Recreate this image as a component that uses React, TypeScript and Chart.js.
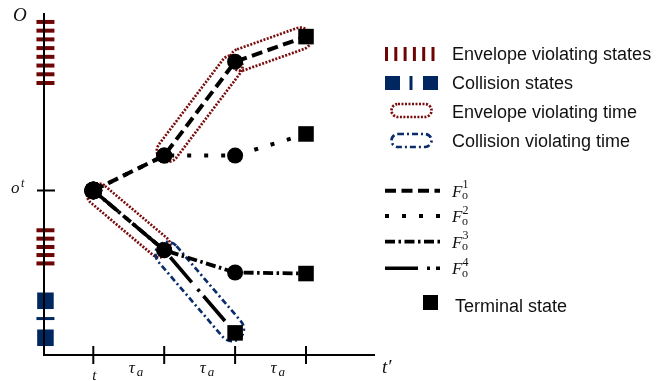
import React, { useEffect, useRef } from 'react';
import { Chart, registerables } from 'chart.js';

Chart.register(...registerables);

// ---- data ----
const steps = [0, 1, 2, 3]; // t, t+τa, t+2τa, t+3τa
const f1Values = [0, 1.0, 3.69, 4.41];
const f2Values = [0, 1.0, 1.0, 1.62];
const f3Values = [0, -1.71, -2.35, -2.38];
const f4Values = [0, -1.71, -4.08];
const seriesNames = ['F1', 'F2', 'F3', 'F4'];
const seriesValues = [f1Values, f2Values, f3Values, f4Values];
const envelopeStates = [4.83, 4.58, 4.33, 4.08, 3.83, 3.58, 3.33, 3.08, -1.14, -1.38, -1.62, -1.85, -2.09];
const collisionStates = [-3.16, -4.22];
const collisionSeparators = [-3.67];
const stateColumn = [-0.675];
const envelopeTimeSpans = [
  { series: 'F3', from: 0, to: 1 },
  { series: 'F1', from: 1, to: 2 },
  { series: 'F1', from: 2, to: 3 },
];
const collisionTimeSpans = [{ series: 'F4', from: 1, to: 2 }];
const originTick = [0];
const legendTexts = ['Envelope violating states', 'Collision states', 'Envelope violating time', 'Collision violating time'];
const terminalText = 'Terminal state';

// ---- styles ----
const RED = '#6e0505';
const RED_OVAL = '#780c0c';
const BLUE = '#00275f';
const BLUE_OVAL = '#0a2c6a';
const DASHES: Record<string, number[]> = {
  F1: [11, 5.5],
  F2: [4, 13],
  F3: [10, 3.5, 2.5, 3.5],
  F4: [33, 9, 3, 6],
};
const WIDTHS: Record<string, number> = { F1: 4, F2: 4, F3: 3.8, F4: 3.6 };
const RED_DOTS = [2, 1.5];
const BLUE_DASHDOT = [6, 3, 2, 3];
const X_MIN = -0.6953;
const X_MAX = 3.973;
const Y_MIN = -4.714;
const Y_MAX = 5.086;
const SANS = '"Liberation Sans", Arial, Helvetica, sans-serif';
const SERIF = '"Liberation Serif", "Times New Roman", serif';

function stadium(ctx: CanvasRenderingContext2D, x1: number, y1: number, x2: number, y2: number, h: number, ext: number) {
  const dx = x2 - x1;
  const dy = y2 - y1;
  const L = Math.hypot(dx, dy);
  const a = Math.atan2(dy, dx);
  const s = -ext + h;
  const e = L + ext - h;
  ctx.save();
  ctx.translate(x1, y1);
  ctx.rotate(a);
  ctx.beginPath();
  ctx.moveTo(s, -h);
  ctx.lineTo(e, -h);
  ctx.arc(e, 0, h, -Math.PI / 2, Math.PI / 2);
  ctx.lineTo(s, h);
  ctx.arc(s, 0, h, Math.PI / 2, (3 * Math.PI) / 2);
  ctx.closePath();
  ctx.restore();
  ctx.stroke();
}

const ovalPlugin = {
  id: 'ovals',
  beforeDatasetsDraw(chart: any) {
    const ctx: CanvasRenderingContext2D = chart.ctx;
    const xs = chart.scales.x;
    const ys = chart.scales.y;
    const draw = (spans: any[], color: string, dash: number[], lw: number, h: number, ext: number) => {
      ctx.save();
      ctx.strokeStyle = color;
      ctx.lineWidth = lw;
      ctx.setLineDash(dash);
      spans.forEach((sp) => {
        const vals = seriesValues[seriesNames.indexOf(sp.series)];
        stadium(
          ctx,
          xs.getPixelForValue(steps[sp.from]),
          ys.getPixelForValue(vals[sp.from]),
          xs.getPixelForValue(steps[sp.to]),
          ys.getPixelForValue(vals[sp.to]),
          h,
          ext
        );
      });
      ctx.restore();
    };
    draw(envelopeTimeSpans, RED_OVAL, RED_DOTS, 2.7, 11, 5);
    draw(collisionTimeSpans, BLUE_OVAL, BLUE_DASHDOT, 2.7, 12, 7);
  },
};

function drawMath(ctx: CanvasRenderingContext2D, x: number, base: number, digit: string) {
  ctx.fillStyle = '#111';
  ctx.textAlign = 'left';
  ctx.textBaseline = 'alphabetic';
  ctx.font = `italic 17px ${SERIF}`;
  ctx.fillText('F', x, base);
  ctx.font = `12px ${SERIF}`;
  ctx.fillText(digit, x + 10.5, base - 8.5);
  ctx.fillText('o', x + 10, base + 2.5);
}

const axesPlugin = {
  id: 'axesAndLegend',
  afterDatasetsDraw(chart: any) {
    const ctx: CanvasRenderingContext2D = chart.ctx;
    const xs = chart.scales.x;
    const ys = chart.scales.y;
    const x0 = xs.getPixelForValue(X_MIN);
    const x1 = xs.getPixelForValue(X_MAX);
    const y0 = ys.getPixelForValue(Y_MIN);
    const y1 = ys.getPixelForValue(Y_MAX);
    ctx.save();
    ctx.strokeStyle = '#000';
    ctx.lineWidth = 2;
    ctx.setLineDash([]);
    ctx.beginPath();
    ctx.moveTo(x0, y1);
    ctx.lineTo(x0, y0);
    ctx.lineTo(x1, y0);
    ctx.stroke();
    // x ticks
    steps.forEach((s) => {
      const px = xs.getPixelForValue(s);
      ctx.beginPath();
      ctx.moveTo(px, y0 - 9);
      ctx.lineTo(px, y0 + 9);
      ctx.stroke();
    });
    // y tick
    originTick.forEach((v) => {
      const py = ys.getPixelForValue(v);
      ctx.beginPath();
      ctx.moveTo(x0 - 7, py);
      ctx.lineTo(x0 + 11, py);
      ctx.stroke();
    });
    // axis labels
    ctx.fillStyle = '#111';
    ctx.textBaseline = 'alphabetic';
    ctx.textAlign = 'center';
    ctx.font = `italic 15px ${SERIF}`;
    ctx.fillText('t', xs.getPixelForValue(steps[0]) + 1, y0 + 24.5);
    for (let i = 0; i < steps.length - 1; i++) {
      const mid = (xs.getPixelForValue(steps[i]) + xs.getPixelForValue(steps[i + 1])) / 2;
      ctx.textAlign = 'left';
      ctx.font = `italic 17px ${SERIF}`;
      ctx.fillText('τ', mid, y0 + 18);
      ctx.font = `italic 13px ${SERIF}`;
      ctx.fillText('a', mid + 8, y0 + 21);
    }
    ctx.textAlign = 'left';
    ctx.font = `italic 19px ${SERIF}`;
    ctx.fillText('t′', x1 + 7, y0 + 18);
    ctx.font = `italic 19px ${SERIF}`;
    ctx.fillText('O', 13, 21);
    const oy = ys.getPixelForValue(originTick[0]);
    ctx.font = `italic 17px ${SERIF}`;
    ctx.fillText('o', 11, oy + 3);
    ctx.font = `italic 12px ${SERIF}`;
    ctx.fillText('t', 21, oy - 3);

    // ---- legend ----
    const lx = 385;
    const tx = 452;
    // row 1: envelope states
    ctx.fillStyle = RED;
    for (let i = 0; i < 6; i++) ctx.fillRect(lx + i * 9.3, 47, 3, 14);
    // row 2: collision states
    ctx.fillStyle = BLUE;
    ctx.fillRect(lx, 76, 15, 14);
    ctx.fillRect(lx + 24.5, 76, 3, 14);
    ctx.fillRect(lx + 38, 76, 15, 14);
    // row 3,4 ovals
    ctx.lineWidth = 2.7;
    ctx.strokeStyle = RED_OVAL;
    ctx.setLineDash(RED_DOTS);
    stadium(ctx, lx + 6.5, 110.5, lx + 53 - 6.5, 110.5, 6.5, 0);
    ctx.strokeStyle = BLUE_OVAL;
    ctx.lineWidth = 2.7;
    ctx.setLineDash(BLUE_DASHDOT);
    stadium(ctx, lx + 6.5, 140.5, lx + 53 - 6.5, 140.5, 6.5, 0);
    ctx.setLineDash([]);
    ctx.fillStyle = '#111';
    ctx.font = `18px ${SANS}`;
    const bases = [60, 89.3, 117.5, 146.7];
    legendTexts.forEach((t, i) => ctx.fillText(t, tx, bases[i]));
    // F rows
    const fy = [190.7, 216, 241.7, 268.3];
    seriesNames.forEach((n, i) => {
      ctx.strokeStyle = '#000';
      ctx.lineWidth = WIDTHS[n];
      ctx.setLineDash(DASHES[n]);
      ctx.beginPath();
      ctx.moveTo(lx, fy[i]);
      ctx.lineTo(lx + 55, fy[i]);
      ctx.stroke();
      ctx.setLineDash([]);
      drawMath(ctx, tx, fy[i] + 6, String(i + 1));
    });
    // terminal
    ctx.fillStyle = '#000';
    ctx.fillRect(423, 295, 15, 15);
    ctx.fillStyle = '#111';
    ctx.font = `18px ${SANS}`;
    ctx.fillText(terminalText, 455, 311.5);
    ctx.restore();
  },
};

function lineDataset(name: string, values: number[]) {
  return {
    label: name,
    data: values.map((y, i) => ({ x: steps[i], y })),
    showLine: true,
    borderColor: '#000',
    borderWidth: WIDTHS[name],
    borderDash: DASHES[name],
    borderCapStyle: 'butt',
    pointStyle: values.map((_, i) => (i === values.length - 1 ? 'rect' : 'circle')),
    pointRadius: values.map((_, i) => (i === 0 ? 9 : i === values.length - 1 ? 11 : 8)),
    pointBackgroundColor: '#000',
    pointBorderWidth: 0,
    tension: 0,
    clip: false,
  };
}

export default function App() {
  const ref = useRef<HTMLCanvasElement | null>(null);
  useEffect(() => {
    if (!ref.current) return;
    const chart = new Chart(ref.current, {
      type: 'scatter',
      data: {
        datasets: [
          {
            label: 'Envelope violating states',
            data: envelopeStates.map((y) => ({ x: stateColumn[0], y })),
            pointStyle: 'line',
            pointRadius: 9,
            borderColor: RED,
            backgroundColor: RED,
            pointBorderWidth: 4,
            showLine: false,
            clip: false,
          } as any,
          {
            label: 'Collision states',
            data: collisionStates.map((y) => ({ x: stateColumn[0], y })),
            pointStyle: 'rect',
            pointRadius: 11.7,
            pointBackgroundColor: BLUE,
            pointBorderWidth: 0,
            showLine: false,
            clip: false,
          } as any,
          {
            label: 'Collision separator',
            data: collisionSeparators.map((y) => ({ x: stateColumn[0], y })),
            pointStyle: 'line',
            pointRadius: 9,
            borderColor: BLUE,
            pointBorderWidth: 3,
            showLine: false,
            clip: false,
          } as any,
          ...seriesNames.map((n, i) => lineDataset(n, seriesValues[i]) as any),
        ],
      },
      options: {
        responsive: false,
        devicePixelRatio: 1,
        animation: false,
        events: [],
        layout: { padding: { left: 44, top: 12, right: 296, bottom: 26 } },
        scales: {
          x: { type: 'linear', min: X_MIN, max: X_MAX, display: false },
          y: { type: 'linear', min: Y_MIN, max: Y_MAX, display: false },
        },
        plugins: { legend: { display: false }, tooltip: { enabled: false } },
      },
      plugins: [ovalPlugin, axesPlugin],
    });
    return () => chart.destroy();
  }, []);
  return (
    <div style={{ position: 'absolute', left: 0, top: 0, width: 671, height: 381, background: '#fff' }}>
      <canvas ref={ref} width={671} height={381} />
    </div>
  );
}
